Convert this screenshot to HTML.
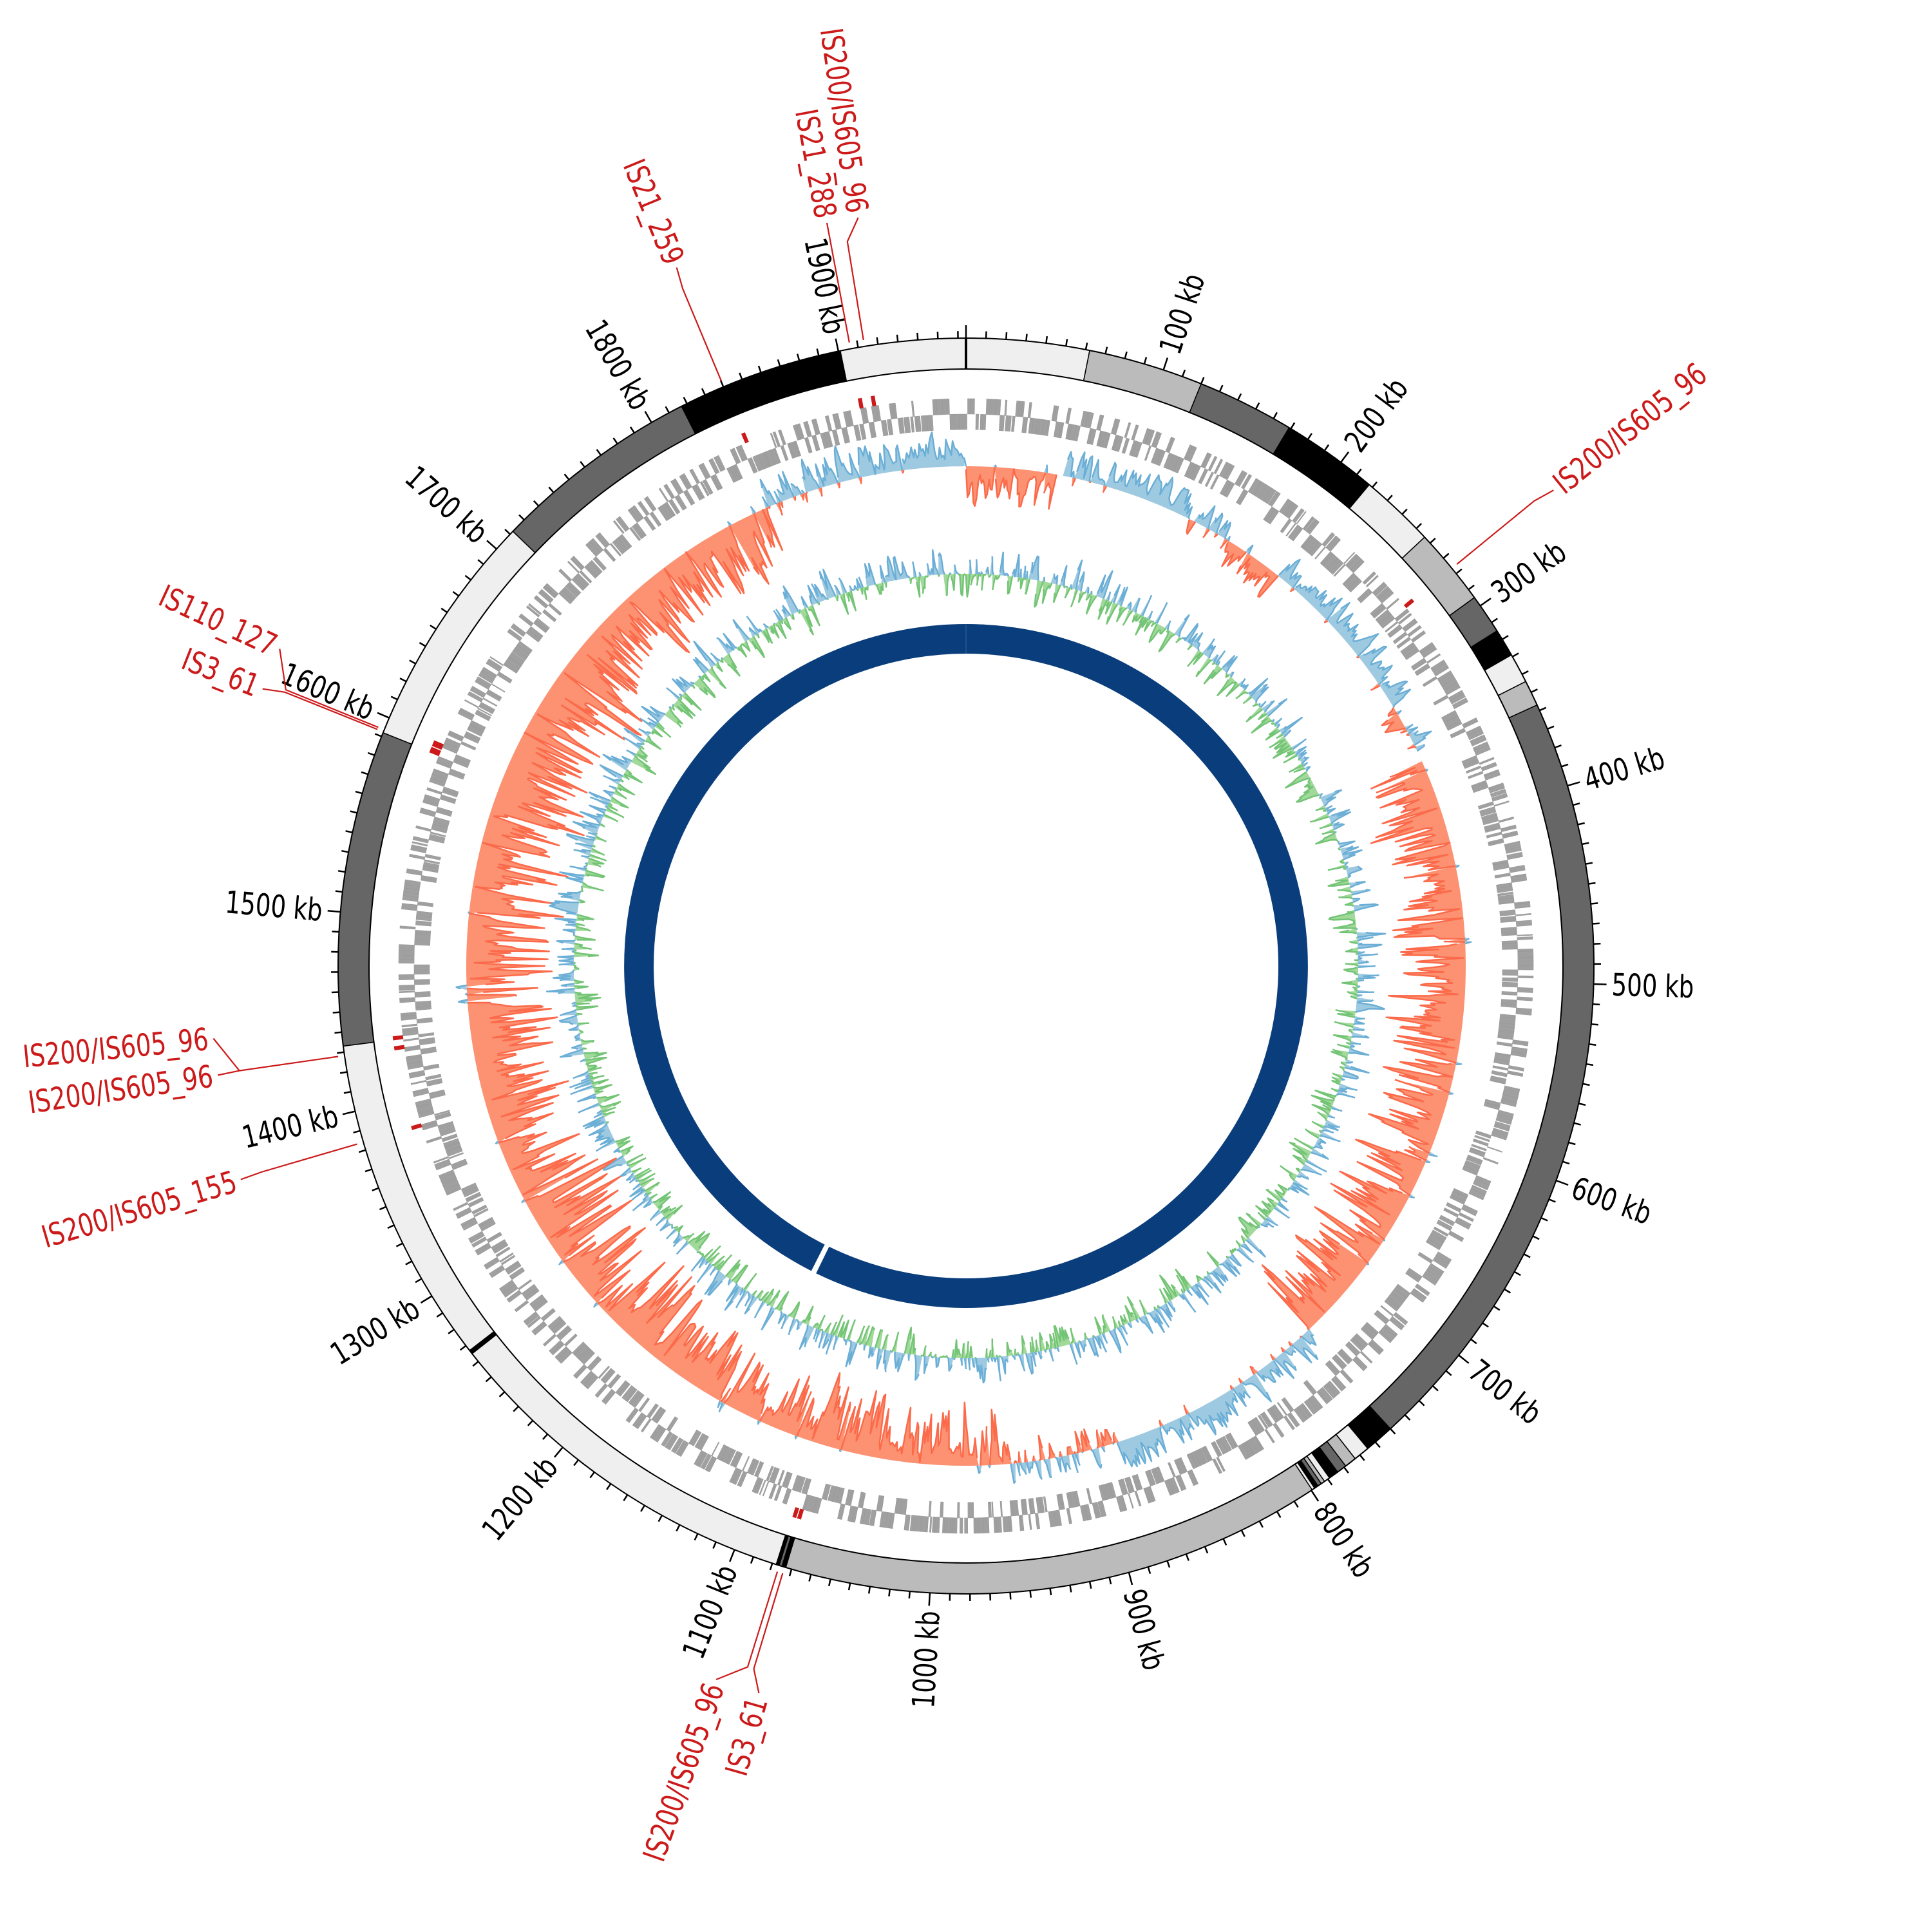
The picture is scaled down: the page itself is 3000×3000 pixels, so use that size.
<!DOCTYPE html>
<html><head><meta charset="utf-8"><style>
html,body{margin:0;padding:0;background:#fff;}
svg{display:block;}
text{font-family:"DejaVu Sans Condensed","DejaVu Sans","Liberation Sans",sans-serif;font-stretch:condensed;font-size:48px;}
</style></head><body>
<svg id="s" xmlns="http://www.w3.org/2000/svg" width="3000" height="3000" viewBox="0 0 3000 3000"></svg>
<script>
const L=1964, C=1500, S=document.getElementById('s');
const NS='http://www.w3.org/2000/svg';
function P(t,r){const a=t*Math.PI/180;return [C+r*Math.sin(a),C-r*Math.cos(a)];}
function f(p){return p[0].toFixed(1)+','+p[1].toFixed(1);}
function th(kb){return kb/L*360;}
function add(tag,attrs,txt){const e=document.createElementNS(NS,tag);for(const k in attrs)e.setAttribute(k,attrs[k]);if(txt!==undefined)e.textContent=txt;S.appendChild(e);return e;}
function band(t1,t2,r1,r2){const lg=(t2-t1)>180?1:0;
 return 'M'+f(P(t1,r2))+'A'+r2+','+r2+' 0 '+lg+' 1 '+f(P(t2,r2))+'L'+f(P(t2,r1))+'A'+r1+','+r1+' 0 '+lg+' 0 '+f(P(t1,r1))+'Z';}
let seed=12345;function rnd(){seed=(seed*1103515245+12345)%2147483648;return seed/2147483648;}

add('path',{d:band(th(0)+0.01,206.0,485,531)+band(206.9,359.99,485,531),fill:'#0a3d7b'});

function track(base,vals,posFill,posStroke,negFill,negStroke){
 const n=vals.length;
 function poly(sign){let pts=[];
  for(let i=0;i<n;i++){const v=sign>0?Math.max(vals[i],0):Math.min(vals[i],0);pts.push(f(P(i/n*360,base+v)));}
  let d='M'+pts.join('L');
  for(let i=n-1;i>=0;i-=4)d+='L'+f(P(i/n*360,base));
  d+='L'+f(P(0,base))+'Z';return d;}
 function line(sign){let d='';let on=false;
  for(let i=0;i<=n;i++){const v=vals[i%n];const ok=sign>0?v>0:v<0;
   if(ok){d+=(on?'L':'M')+f(P(i/n*360,base+v));on=true;}
   else{if(on)d+='L'+f(P(i/n*360,base));on=false;}}
  return d;}
 add('path',{d:poly(1),fill:posFill});
 add('path',{d:poly(-1),fill:negFill});
 add('path',{d:line(1),fill:'none',stroke:posStroke,'stroke-width':2.5,'stroke-linejoin':'round'});
 add('path',{d:line(-1),fill:'none',stroke:negStroke,'stroke-width':2.5,'stroke-linejoin':'round'});
}
let gc=[];let sm=0;
for(let i=0;i<L;i++){let r=rnd();let v;
 if(r<0.5){v=(rnd()**2)*55;}else{v=-(rnd()**2)*50;}
 sm=0.3*sm+0.7*v;gc.push(sm);}
track(609,gc,'#9ecae1','#6baed6','#a1d99b','#74c476');

const reg=[[0,57,-1,75],[57,62,0,0],[62,140,1,55],[140,150,-1,30],[150,170,1,45],[170,212,-1,55],[212,300,1,55],[300,320,1,45],[320,338,-1,40],[338,352,1,45],[352,360,0,0],[360,745,-1,140],[745,880,1,60],[880,960,2,50],[960,1200,-1,125],[1200,1700,-1,180],[1700,1835,-1,135],[1835,1964,1,60]];
let sk=[];sm=0;
for(let i=0;i<L;i++){let g=reg.find(q=>i>=q[0]&&i<q[1]);let s=g[2],a=g[3];let v;
 if(s===0)v=0;
 else{let sg=s===2?(rnd()<0.5?1:-1):s;
  v=sg*a*(0.1+0.9*rnd()**1.8);
  if(rnd()<0.07&&s!==2)v=-sg*(8+rnd()*25);}
 sm=0.35*sm+0.65*v; if(s===0)sm=0; sk.push(sm);}
track(776,sk,'#9ecae1','#6baed6','#fc9272','#fb6a4a');

let dO='',dI='';let pos=0;
while(pos<L){let len=0.5+rnd()*2.8;let gap=rnd()<0.75?rnd()*0.15:rnd()*1.2;
 const t1=th(pos),t2=th(Math.min(pos+len,L));
 if(rnd()<0.5)dO+=band(t1,t2,857,881);else dI+=band(t1,t2,833,857);
 pos+=len+gap;}
add('path',{d:dO,fill:'#a0a0a0',stroke:'#999','stroke-width':0.6});
add('path',{d:dI,fill:'#a0a0a0',stroke:'#999','stroke-width':0.6});

const bands=[[0,62,'#efefef'],[62,120,'#bbbbbb'],[120,169,'#666666'],[169,218,'#000'],[218,256,'#efefef'],[256,295,'#bbbbbb'],[295,315,'#666666'],[315,329,'#000'],[329,344,'#efefef'],[344,357,'#bbbbbb'],[357,750,'#666666'],[750,765,'#000'],[765,773,'#efefef'],[773,779,'#bbbbbb'],[779,784,'#666666'],[784,789,'#000'],[789,792,'#efefef'],[792,794,'#bbbbbb'],[794,796,'#666666'],[796,798,'#000'],[798,799.5,'#efefef'],[799.5,1073,'#bbbbbb'],[1073,1075,'#000'],[1075,1076.5,'#666666'],[1076.5,1078,'#000'],[1078,1265,'#efefef'],[1265,1267,'#000'],[1267,1433,'#efefef'],[1433,1592,'#666666'],[1592,1712,'#efefef'],[1712,1817,'#666666'],[1817,1901,'#000'],[1901,1964,'#efefef']];
for(const b of bands){add('path',{d:band(th(b[0]),th(b[1]),927,975),fill:b[2],stroke:'#000','stroke-width':1.5});}
add('circle',{cx:C,cy:C,r:975,fill:'none',stroke:'#000','stroke-width':2});
add('circle',{cx:C,cy:C,r:927,fill:'none',stroke:'#000','stroke-width':2});
add('path',{d:'M'+f(P(0,927))+'L'+f(P(0,975)),stroke:'#000','stroke-width':4});

let td='';
for(let k=0;k<L;k+=10){const t=th(k);const big=k%100===0;td+='M'+f(P(t,975))+'L'+f(P(t,big?995:986));}
add('path',{d:td,stroke:'#000','stroke-width':2.5,fill:'none'});
function rtext(t,r,txt,color){const p=P(t,r);let rot,anc;
 if(t<180){rot=t-90;anc='start';}else{rot=t+90;anc='end';}
 add('text',{x:0,y:0,transform:'translate('+p[0].toFixed(1)+' '+p[1].toFixed(1)+') rotate('+rot.toFixed(2)+') scale(0.86,1)','text-anchor':anc,'dominant-baseline':'central',fill:color},txt);}
for(let k=100;k<L;k+=100)rtext(th(k),1003,k+' kb','#000');

const IS=[['IS21_259',337.3,337.5],['IS21_288',349.4,349.4],['IS200/IS605_96',350.7,351.8],['IS200/IS605_96',50.7,51.0],['IS110_127',292.1,294.8],['IS3_61',291.9,291.5],['IS200/IS605_96',261.8,264.5],['IS200/IS605_96',261.8,261.7],['IS200/IS605_155',253.7,253.6],['IS200/IS605_96',197.3,199.3],['IS3_61',196.8,195.9]];
let ld='',md='';
for(const s of IS){ld+='M'+f(P(s[1],985))+'L'+f(P(s[1],1140))+'L'+f(P(s[2],1174));
 md+=band(s[1]-0.2,s[1]+0.2,881,897);
 rtext(s[2],1182,s[0],'#cc1a1a');}
md+=band(292.4,293.0,881,897)+band(262.6,263.0,881,897);
add('path',{d:ld,stroke:'#cc1a1a','stroke-width':2.2,fill:'none'});
add('path',{d:md,fill:'#cc1a1a'});
</script>
</body></html>
